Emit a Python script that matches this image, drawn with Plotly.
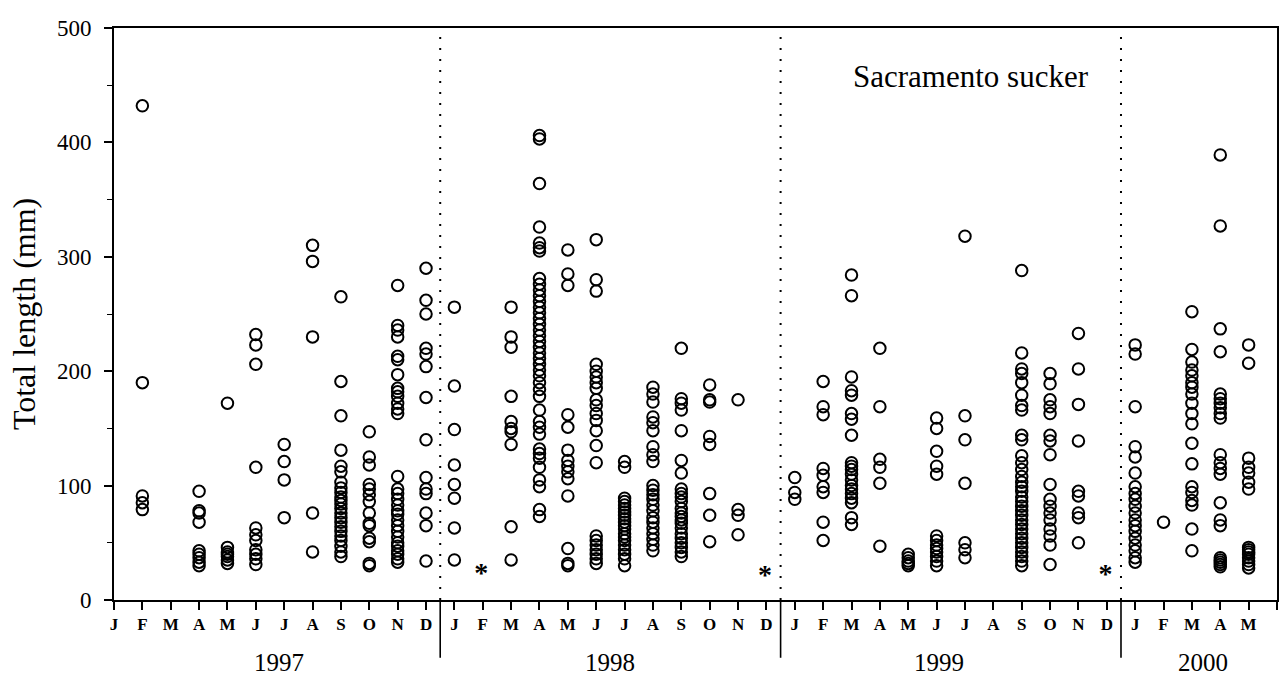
import plotly.graph_objects as go

# Sampling months (1-12) and total lengths (mm) of each fish caught, by year
months_1997 = [2, 4, 5, 6, 7, 8, 9, 10, 11, 12]
tl_1997 = [
    [432, 190, 91, 85, 79],
    [95, 78, 76, 68, 43, 40, 37, 33, 30],
    [172, 46, 42, 40, 38, 35, 32],
    [232, 223, 206, 116, 63, 57, 52, 44, 40, 36, 31],
    [136, 121, 105, 72],
    [310, 296, 230, 76, 42],
    [265, 191, 161, 131, 117, 112, 103, 98, 94, 90, 87, 84, 80, 76, 72, 68, 64,
     60, 56, 52, 47, 42, 38],
    [147, 125, 118, 101, 97, 92, 86, 76, 67, 65, 54, 51, 32, 30],
    [275, 240, 236, 230, 213, 210, 197, 185, 182, 178, 172, 167, 163, 108, 97,
     93, 88, 83, 78, 75, 70, 65, 60, 55, 50, 47, 43, 40, 36, 33],
    [290, 262, 250, 220, 215, 204, 177, 140, 107, 97, 93, 76, 65, 34],
]

months_1998 = [1, 3, 4, 5, 6, 7, 8, 9, 10, 11]
tl_1998 = [
    [256, 187, 149, 118, 101, 89, 63, 35],
    [256, 230, 221, 178, 156, 150, 147, 136, 64, 35],
    [406, 403, 364, 326, 312, 308, 305, 281, 276, 271, 266, 261, 256, 251, 246,
     241, 236, 231, 226, 221, 216, 211, 206, 201, 196, 190, 184, 178, 166, 156,
     151, 145, 132, 128, 124, 116, 105, 99, 79, 73],
    [306, 285, 275, 162, 151, 131, 122, 117, 112, 106, 91, 45, 32, 30],
    [315, 280, 270, 206, 200, 195, 190, 185, 175, 170, 163, 157, 148, 135, 120,
     56, 52, 48, 44, 40, 36, 32],
    [121, 116, 89, 86, 83, 80, 77, 74, 71, 68, 65, 62, 58, 55, 52, 48, 44, 40,
     36, 30],
    [186, 180, 173, 160, 155, 148, 134, 127, 121, 100, 96, 92, 88, 83, 78, 72,
     68, 63, 58, 53, 48, 43],
    [220, 176, 172, 166, 148, 122, 111, 97, 93, 90, 86, 80, 76, 73, 70, 67, 63,
     58, 54, 50, 46, 42, 38],
    [188, 175, 173, 143, 136, 93, 74, 51],
    [175, 79, 74, 57],
]

months_1999 = [1, 2, 3, 4, 5, 6, 7, 9, 10, 11]
tl_1999 = [
    [107, 94, 88],
    [191, 169, 162, 115, 109, 99, 94, 68, 52],
    [284, 266, 195, 183, 179, 163, 158, 144, 120, 117, 114, 110, 105, 100, 97,
     93, 89, 85, 72, 66],
    [220, 169, 123, 116, 102, 47],
    [40, 37, 34, 32, 30],
    [159, 150, 130, 117, 110, 56, 52, 48, 45, 42, 38, 34, 30],
    [318, 161, 140, 102, 50, 44, 37],
    [288, 216, 202, 198, 190, 179, 170, 166, 144, 140, 126, 120, 114, 108, 103,
     99, 95, 90, 86, 82, 78, 74, 70, 66, 62, 58, 54, 50, 46, 42, 38, 34, 30],
    [198, 189, 175, 169, 163, 144, 139, 127, 101, 88, 82, 76, 70, 62, 56, 48, 31],
    [233, 202, 171, 139, 95, 91, 76, 72, 50],
]

months_2000 = [1, 2, 3, 4, 5]
tl_2000 = [
    [223, 215, 169, 134, 125, 111, 99, 93, 88, 82, 76, 70, 65, 60, 54, 48, 43,
     37, 33],
    [68],
    [252, 219, 208, 201, 196, 190, 186, 180, 172, 163, 154, 137, 119, 99, 94,
     87, 83, 62, 43],
    [389, 327, 237, 217, 180, 176, 172, 168, 163, 159, 127, 120, 115, 110, 85,
     70, 65, 37, 35, 33, 31, 29],
    [223, 207, 124, 116, 111, 103, 97, 46, 44, 42, 40, 37, 34, 31, 28],
]

# Months that were not sampled (year, month), marked with an asterisk
not_sampled_year = [1998, 1998, 1999]
not_sampled_month = [2, 12, 12]
not_sampled_level = [22, 20, 21]

years = [1997, 1998, 1999, 2000]
month_letters = ["J", "F", "M", "A", "M", "J", "J", "A", "S", "O", "N", "D"]

FIRST_YEAR = 1997
SERIF = "Liberation Serif, Times New Roman, serif"


def month_index(year, month):
    return (year - FIRST_YEAR) * 12 + (month - 1)


xs, ys = [], []
for year, months, lengths in zip(years,
                                 [months_1997, months_1998, months_1999, months_2000],
                                 [tl_1997, tl_1998, tl_1999, tl_2000]):
    for m, vals in zip(months, lengths):
        xs.extend([month_index(year, m)] * len(vals))
        ys.extend(vals)

fig = go.Figure()

fig.add_trace(go.Scatter(
    x=xs, y=ys, mode="markers",
    marker=dict(symbol="circle-open", size=11.5, color="black",
                line=dict(color="black", width=2)),
    hoverinfo="x+y", showlegend=False,
))

fig.add_trace(go.Scatter(
    x=[month_index(y, m) - 0.05 for y, m in zip(not_sampled_year, not_sampled_month)],
    y=not_sampled_level, mode="text", text=["*"] * len(not_sampled_level),
    textfont=dict(family=SERIF, size=28, color="black", weight="bold"),
    hoverinfo="skip", showlegend=False,
))

n_ticks = 42
tick_vals = list(range(n_ticks))
tick_text = [month_letters[i % 12] for i in tick_vals]

# Year separators: dotted inside the plot, solid below the axis
for k in range(1, len(years)):
    xb = k * 12 - 0.5
    fig.add_shape(type="line", xref="x", yref="y", x0=xb, x1=xb, y0=0, y1=500,
                  line=dict(color="black", width=2, dash="2px,9px"), layer="below")
    fig.add_shape(type="line", xref="x", yref="paper", x0=xb, x1=xb,
                  y0=-0.101, y1=0, line=dict(color="black", width=1.6))

year_centres = [5.8, 17.5, 29.1, 38.4]
for yr, xc in zip(years, year_centres):
    fig.add_annotation(x=xc, y=-0.110, xref="x", yref="paper", text=str(yr),
                       showarrow=False, xanchor="center", yanchor="middle",
                       font=dict(family=SERIF, size=25, color="black"))

fig.add_annotation(x=-0.0773, y=0.5, xref="paper", yref="paper",
                   text="Total length (mm)", textangle=-90, showarrow=False,
                   xanchor="center", yanchor="middle",
                   font=dict(family=SERIF, size=32, color="black"))

fig.add_annotation(x=30.2, y=458, xref="x", yref="y", text="Sacramento sucker",
                   showarrow=False, xanchor="center", yanchor="middle",
                   font=dict(family=SERIF, size=31, color="black"))

fig.update_layout(
    width=1280, height=681,
    margin=dict(l=114, r=1, t=28, b=81),
    paper_bgcolor="white", plot_bgcolor="white",
    font=dict(family=SERIF, color="black"),
    xaxis=dict(
        range=[0, 41], tickmode="array", tickvals=tick_vals, ticktext=tick_text,
        ticks="outside", ticklen=8, tickwidth=1.5, tickcolor="black",
        showline=True, linecolor="black", linewidth=2, mirror=True,
        showgrid=False, zeroline=False,
        tickfont=dict(family=SERIF, size=17, color="black", weight="bold"),
    ),
    yaxis=dict(
        range=[0, 500], tickmode="linear", tick0=0, dtick=100,
        ticks="outside", ticklen=8, tickwidth=1.5, tickcolor="black",
        minor=dict(dtick=50, ticks="outside", ticklen=5, tickwidth=1.2,
                   tickcolor="black", showgrid=False),
        showline=True, linecolor="black", linewidth=2, mirror=True,
        showgrid=False, zeroline=False, ticklabelstandoff=8,
        tickfont=dict(family=SERIF, size=23, color="black"),
    ),
)

fig.write_html("out.html")
